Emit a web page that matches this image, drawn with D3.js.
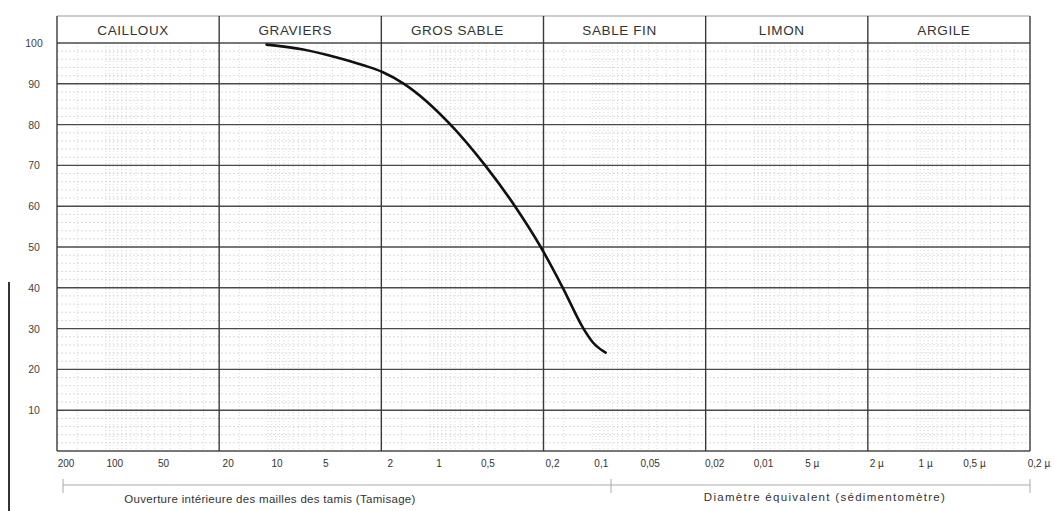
<!DOCTYPE html>
<html>
<head>
<meta charset="utf-8">
<script src="https://cdn.jsdelivr.net/npm/d3@7"></script>
<style>
body{margin:0;background:#fff}
svg{display:block}
text{font-family:"Liberation Sans",Arial,sans-serif}
</style>
</head>
<body>
<svg width="1055" height="511"></svg>
<script>
// classes granulométriques (en tête) et leurs bornes en mm
var classes = ["CAILLOUX","GRAVIERS","GROS SABLE","SABLE FIN","LIMON","ARGILE"];
var classBounds = [200,20,2,0.2,0.02,0.002,0.0002];

// graduations de l'axe des diamètres (mm)
var tickValues = [200,100,50,20,10,5,2,1,0.5,0.2,0.1,0.05,0.02,0.01,0.005,0.002,0.001,0.0005,0.0002];
var tickLabels = ["200","100","50","20","10","5","2","1","0,5","0,2","0,1","0,05","0,02","0,01","5 µ","2 µ","1 µ","0,5 µ","0,2 µ"];
var yTicks = [10,20,30,40,50,60,70,80,90,100];

// courbe granulométrique : diamètre (mm) / tamisat (%)
var diam    = [10.2, 6.07, 3.81, 2.61, 1.97, 1.45, 0.749, 0.458, 0.30, 0.208, 0.152, 0.1134, 0.0991, 0.0828];
var passing = [99.6, 98.4, 96.5, 94.6, 92.9, 90, 80, 70, 60, 50, 40, 30, 26.6, 24.1];

var W = 1055, H = 511;
var svgObj = d3.select("svg");

var x = d3.scaleLog().domain([200,0.0002]).range([57,1030]);
var y = d3.scaleLinear().domain([0,100]).range([451,43]);
var top0 = 16;

// grille fine (papier semi-log)
var minorX = [];
for(var p = -4; p <= 2; p++){
	for(var m = 1; m <= 9; m++){
		var v = m*Math.pow(10,p);
		if(v < 200 && v > 0.0002 && classBounds.indexOf(+v.toPrecision(3)) < 0) minorX.push(v);
	}
	for(var m2 = 1.5; m2 < 10; m2 += 1){
		var v2 = m2*Math.pow(10,p);
		if(v2 < 200 && v2 > 0.0002) minorX.push(v2);
	}
}
var minorY = d3.range(2,100,2).filter(function(d){ return d % 10 != 0; });

svgObj.append("g").selectAll("line")
	.data(minorX).enter().append("line")
	.attr("x1",function(d){ return x(d); }).attr("x2",function(d){ return x(d); })
	.attr("y1",y(100)).attr("y2",y(0))
	.attr("stroke","#d2d2d2").attr("stroke-width",0.8)
	.attr("stroke-dasharray","1,2");

svgObj.append("g").selectAll("line")
	.data(minorY).enter().append("line")
	.attr("x1",x(200)).attr("x2",x(0.0002))
	.attr("y1",function(d){ return y(d); }).attr("y2",function(d){ return y(d); })
	.attr("stroke","#d2d2d2").attr("stroke-width",0.8)
	.attr("stroke-dasharray","2,2");

// grille principale horizontale
svgObj.append("g").selectAll("line")
	.data([0].concat(yTicks)).enter().append("line")
	.attr("x1",x(200)).attr("x2",x(0.0002))
	.attr("y1",function(d){ return y(d); }).attr("y2",function(d){ return y(d); })
	.attr("stroke","#4a4a4a").attr("stroke-width",1.4);

// bande d'en-tête
svgObj.append("line")
	.attr("x1",x(200)).attr("x2",x(0.0002))
	.attr("y1",top0).attr("y2",top0)
	.attr("stroke","#999").attr("stroke-width",1);

// grille principale verticale (bornes des classes)
svgObj.append("g").selectAll("line")
	.data(classBounds).enter().append("line")
	.attr("x1",function(d){ return x(d); }).attr("x2",function(d){ return x(d); })
	.attr("y1",top0).attr("y2",y(0))
	.attr("stroke","#3a3a3a").attr("stroke-width",1.4);

svgObj.append("g").selectAll("text")
	.data(classes).enter().append("text")
	.attr("x",function(d,i){ return (x(classBounds[i])+x(classBounds[i+1]))/2 - 5; })
	.attr("y",35)
	.attr("text-anchor","middle")
	.attr("font-size",13.5)
	.attr("letter-spacing",0.6)
	.attr("fill","#333")
	.text(function(d){ return d; });

// axe des pourcentages
svgObj.append("g").selectAll("text")
	.data(yTicks).enter().append("text")
	.attr("x",34)
	.attr("y",function(d){ return y(d)+4; })
	.attr("text-anchor","middle")
	.attr("font-size",10.5)
	.attr("fill","#444")
	.text(function(d){ return d; });

// axe des diamètres
svgObj.append("g").selectAll("text")
	.data(tickValues).enter().append("text")
	.attr("x",function(d){ return x(d)+9; })
	.attr("y",467)
	.attr("text-anchor","middle")
	.attr("font-size",10)
	.attr("fill","#333")
	.text(function(d,i){ return tickLabels[i]; });

// règle des méthodes
var g2 = svgObj.append("g").attr("stroke","#aaa").attr("stroke-width",1);
g2.append("line").attr("x1",x(200)+6).attr("x2",x(0.0002)).attr("y1",485).attr("y2",485);
[x(200)+6, x(0.08)+3, x(0.0002)].forEach(function(px){
	g2.append("line").attr("x1",px).attr("x2",px).attr("y1",479).attr("y2",493);
});

svgObj.append("text")
	.attr("x",270).attr("y",503)
	.attr("text-anchor","middle").attr("font-size",11.5).attr("fill","#333")
	.attr("letter-spacing",0.3)
	.text("Ouverture intérieure des mailles des tamis (Tamisage)");
svgObj.append("text")
	.attr("x",825).attr("y",501)
	.attr("text-anchor","middle").attr("font-size",11.5).attr("fill","#333")
	.attr("letter-spacing",1.3)
	.text("Diamètre équivalent (sédimentomètre)");

// trait du scan en marge gauche
svgObj.append("line")
	.attr("x1",9).attr("x2",9).attr("y1",282).attr("y2",H)
	.attr("stroke","#333").attr("stroke-width",2);

// courbe
var pts = diam.map(function(d,i){ return [d,passing[i]]; });
var line = d3.line()
	.x(function(d){ return x(d[0]); })
	.y(function(d){ return y(d[1]); })
	.curve(d3.curveMonotoneX);

svgObj.append("path")
	.datum(pts)
	.attr("d",line)
	.attr("fill","none")
	.attr("stroke","#111")
	.attr("stroke-width",2.6)
	.attr("stroke-linecap","round");
</script>
</body>
</html>
